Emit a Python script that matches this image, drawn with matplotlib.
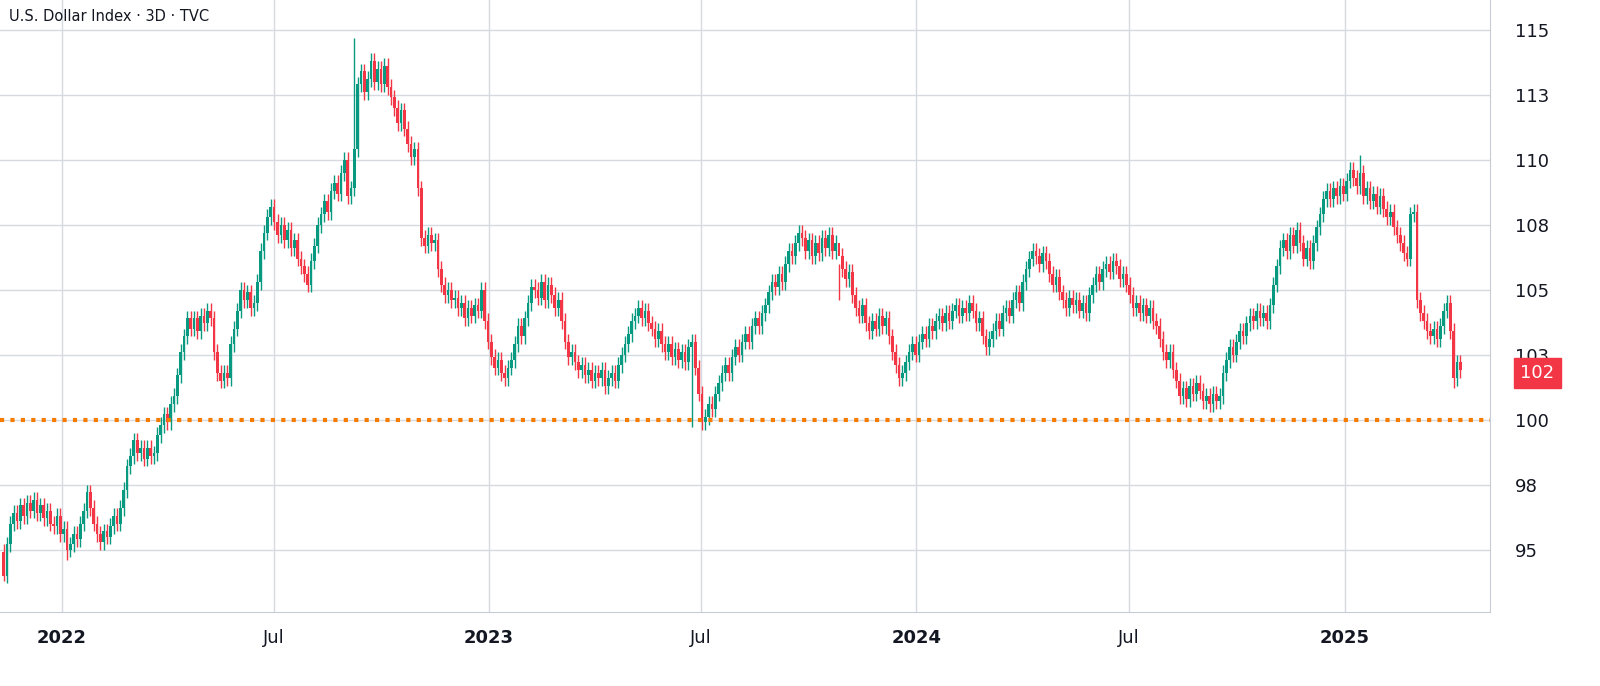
import matplotlib
matplotlib.use("Agg")
import matplotlib.pyplot as plt
import matplotlib.dates as mdates
import numpy as np
import datetime as dt

title = "U.S. Dollar Index · 3D · TVC"
start_date = dt.date(2021, 11, 12)
end_date = dt.date(2025, 4, 10)
closes = [
94.0,95.2,96.0, 96.4,96.1,96.7, 96.3,96.8,96.5, 96.9,96.4,96.7, 96.2,96.5,96.0, 95.9,96.3,95.6,
95.8,95.0,95.2, 95.6,95.4,96.0, 96.5,97.2,96.6, 96.0,95.6,95.3, 95.7,95.5,95.9, 96.3,96.0,96.6,
97.3,98.2,98.6, 99.2,98.7,98.9, 98.5,98.9,98.6, 98.7,99.4,99.8, 100.2,99.9,100.6, 100.9,101.7,102.6,
103.2,103.9,103.5, 103.9,103.4,104.0, 103.7,104.2,103.9, 102.6,101.8,101.5, 101.8,101.6,102.9, 103.5,104.2,105.0,
104.6,104.9,104.3, 104.5,105.3,106.5, 107.2,107.8,108.2, 107.6,107.1,107.5, 106.9,107.3,106.6, 106.9,106.2,105.9,
105.6,105.2,106.1, 106.7,107.5,107.9, 108.4,108.0,108.8, 109.1,108.7,109.5, 110.0,108.6,108.9, 110.4,112.9,113.4,
112.6,113.1,113.8, 113.0,113.5,112.9, 113.6,112.8,112.4, 112.0,111.4,111.9, 111.2,110.6,110.1, 110.4,108.9,107.0,
106.7,107.1,106.8, 106.9,105.8,105.2, 104.8,105.0,104.6, 104.7,104.3,104.5, 103.9,104.3,104.0, 104.4,104.2,105.0,
103.8,103.0,102.4, 102.0,102.3,101.8, 101.6,102.0,102.3, 102.9,103.6,103.2, 103.9,104.5,105.1, 105.0,104.7,105.3,
104.6,105.2,104.8, 104.3,104.6,103.8, 103.0,102.4,102.6, 102.2,101.9,102.1, 101.7,101.9,101.5, 101.8,101.6,101.9,
101.3,101.6,101.8, 101.5,102.1,102.5, 102.9,103.3,103.8, 104.0,104.3,103.9, 104.2,103.7,103.5, 103.1,103.4,102.9,
102.6,102.9,102.4, 102.7,102.3,102.6, 102.2,102.8,103.0, 102.0,101.0,99.9, 100.1,100.6,100.4, 101.0,101.4,101.8,
102.1,101.8,102.4, 102.8,102.5,103.0, 103.3,103.0,103.6, 103.9,103.6,104.1, 104.4,104.9,105.3, 105.1,105.6,105.3,
106.0,106.5,106.3, 106.8,107.2,107.0, 106.5,106.9,106.3, 106.8,106.4,107.0, 106.6,107.1,106.5, 106.8,106.3,105.8,
105.4,105.7,104.8, 104.3,104.0,104.4, 103.7,103.4,103.8, 103.5,104.0,103.6, 103.9,103.2,102.6, 102.1,101.6,101.8,
102.2,102.6,102.9, 102.5,103.0,103.3, 103.1,103.6,103.4, 103.8,104.0,103.7, 104.1,103.8,104.2, 104.4,104.0,104.3,
104.1,104.5,104.2, 103.7,103.9,103.2, 102.8,103.1,103.4, 103.8,103.5,104.1, 104.3,104.0,104.6, 104.9,104.5,105.3,
105.8,106.2,106.5, 106.3,106.0,106.4, 106.1,105.6,105.2, 105.5,104.9,104.6, 104.3,104.7,104.4, 104.6,104.2,104.5,
104.1,104.8,105.2, 105.6,105.3,105.8, 106.0,105.7,106.1, 105.9,105.4,105.6, 105.2,104.8,104.3, 104.5,104.1,104.4,
104.0,104.3,103.8, 103.6,103.1,102.6, 102.3,102.6,101.9, 101.5,100.9,101.2, 100.8,101.3,101.0, 101.4,101.1,100.7,
100.9,100.6,101.0, 100.7,100.9,101.8, 102.3,102.8,102.5, 103.0,103.4,103.2, 103.7,104.0,103.8, 104.2,103.9,104.1,
103.8,104.4,105.2, 105.9,106.6,106.9, 106.5,107.1,106.7, 107.3,106.8,106.2, 106.6,106.1,106.8, 107.4,107.9,108.5,
108.8,108.5,108.9, 108.6,109.0,108.7, 109.2,109.6,109.3, 109.0,109.5,108.6, 108.9,108.4,108.7, 108.2,108.6,108.1,
107.8,108.0,107.4, 107.1,106.8,106.4, 106.2,107.9,108.0, 104.6,104.1,103.8, 103.4,103.2,103.5, 103.1,103.6,104.2,
104.5,103.4,101.6, 102.2,101.9,
]
first_open = 94.9
wick = 0.3
# notable extremes: candle index -> value
spike_highs = {105: 114.7, 406: 110.2, 250: 104.6}
spike_lows = {19: 94.6, 206: 99.7, 0: 93.8, 434: 101.2}
support_level = 100.0
last_price_label = "102"
ytick_vals = [95, 97.5, 100, 102.5, 105, 107.5, 110, 112.5, 115]
ytick_labels = ["95", "98", "100", "103", "105", "108", "110", "113", "115"]
xtick_dates = [dt.date(2022,1,1), dt.date(2022,7,1), dt.date(2023,1,1), dt.date(2023,7,1),
               dt.date(2024,1,1), dt.date(2024,7,1), dt.date(2025,1,1)]
xtick_labels = ["2022", "Jul", "2023", "Jul", "2024", "Jul", "2025"]

n = len(closes)
opens = [first_open] + closes[:-1]
highs = [max(o, c) + wick for o, c in zip(opens, closes)]
lows = [min(o, c) - wick for o, c in zip(opens, closes)]
for k, v in spike_highs.items():
    if k < n: highs[k] = v
for k, v in spike_lows.items():
    if k < n: lows[k] = v

x0 = mdates.date2num(start_date); x1 = mdates.date2num(end_date)
xs = np.linspace(x0, x1, n)
step = (x1 - x0) / (n - 1)

UP = "#089981"; DOWN = "#f23645"
fig = plt.figure(figsize=(16, 6.86), dpi=100)
ax = fig.add_axes([0.0, 0.108, 0.931, 0.892])
for x, o, c, h, l in zip(xs, opens, closes, highs, lows):
    col = UP if c >= o else DOWN
    ax.vlines(x, l, h, color=col, linewidth=1.0, zorder=3)
    ax.bar(x, max(abs(c - o), 0.06), bottom=min(o, c), width=step * 0.8, color=col, zorder=3, linewidth=0)

ax.axhline(support_level, color="#f57c00", linestyle=(0, (1, 1.5)), linewidth=3, zorder=4)
ax.set_xlim(mdates.date2num(dt.date(2021, 11, 9)), mdates.date2num(dt.date(2025, 5, 5)))
ax.set_ylim(92.6, 116.15)
ax.set_yticks(ytick_vals)
ax.set_yticklabels(ytick_labels)
ax.yaxis.tick_right()
ax.set_xticks([mdates.date2num(d) for d in xtick_dates])
ax.set_xticklabels(xtick_labels)
for lbl in ax.get_xticklabels():
    lbl.set_fontweight("bold" if lbl.get_text() != "Jul" else "normal")
ax.tick_params(axis="both", length=0, labelsize=13, colors="#131722")
ax.tick_params(axis="y", pad=18)
ax.tick_params(axis="x", pad=12)
ax.grid(True, color="#d6d9e0", linewidth=1)
ax.set_axisbelow(True)
for s in ["top", "left"]:
    ax.spines[s].set_visible(False)
for s in ["right", "bottom"]:
    ax.spines[s].set_color("#c8cbd3")
ax.text(0.006, 0.985, title, transform=ax.transAxes, fontsize=10.5, color="#131722", va="top", ha="left")
ax.annotate(last_price_label, xy=(1.0, closes[-1] - 0.1), xycoords=("axes fraction", "data"),
            xytext=(22, 0), textcoords="offset points", ha="left", va="center", fontsize=13,
            color="white", bbox=dict(boxstyle="square,pad=0.35", fc=DOWN, ec=DOWN))
fig.savefig("out.png", dpi=100, facecolor="white")
